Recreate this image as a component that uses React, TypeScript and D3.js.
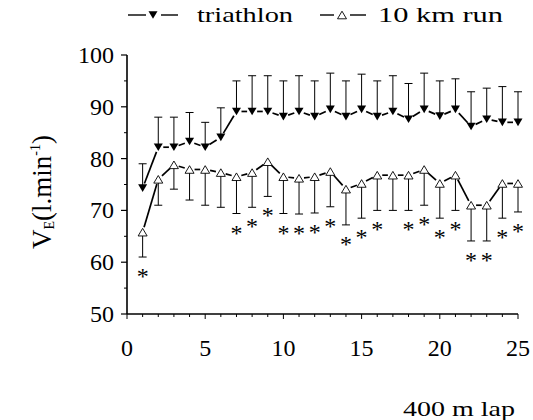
import React from "react";
import * as d3 from "d3";

const laps = [1, 2, 3, 4, 5, 6, 7, 8, 9, 10, 11, 12, 13, 14, 15, 16, 17, 18, 19, 20, 21, 22, 23, 24, 25];
const triMean = [74.3, 82.2, 82.2, 83.3, 82.2, 84.1, 89.1, 89.1, 89.1, 88.1, 89.1, 88.1, 89.5, 88.1, 89.5, 88.1, 89.1, 87.6, 89.5, 88.2, 89.5, 86.2, 87.6, 87.0, 87.0];
const triUpper = [79, 88, 88, 88.9, 87, 89.8, 95, 96, 96, 95, 96, 95, 96.5, 95, 96.3, 95, 96, 94.5, 96.5, 95, 95.4, 92.9, 93.6, 93.9, 92.9];
const runMean = [65.8, 76.0, 78.8, 77.9, 77.9, 77.3, 76.5, 77.3, 79.4, 76.5, 76.2, 76.5, 77.5, 74.1, 75.2, 76.8, 76.8, 76.8, 77.9, 75.2, 76.8, 71.0, 71.0, 75.2, 75.2];
const runLower = [61, 71, 74.1, 72, 71, 70.6, 69.4, 70.6, 72.7, 69.4, 69.3, 69.5, 70.7, 67.2, 68.5, 70, 70, 70, 71, 68.5, 70, 64.1, 64.1, 68.5, 69.7];
const signifLaps = [1, 7, 8, 9, 10, 11, 12, 13, 14, 15, 16, 18, 19, 20, 21, 22, 23, 24, 25];
const xTicks = [0, 5, 10, 15, 20, 25];
const yTicks = [50, 60, 70, 80, 90, 100];
const seriesNames = ["triathlon", "10 km run"];

const FONT = "Liberation Serif";

export default function App() {
  const x = d3.scaleLinear().domain([0, 25]).range([127, 518]);
  const y = d3.scaleLinear().domain([50, 100]).range([314, 55]);
  const cap = 4;
  const gap = 5;

  const segs = (vals: number[]) => {
    const out: JSX.Element[] = [];
    for (let i = 0; i < vals.length - 1; i++) {
      const x1 = x(laps[i]), y1 = y(vals[i]);
      const x2 = x(laps[i + 1]), y2 = y(vals[i + 1]);
      const len = Math.hypot(x2 - x1, y2 - y1);
      const ux = (x2 - x1) / len, uy = (y2 - y1) / len;
      out.push(
        <line key={i} x1={x1 + ux * gap} y1={y1 + uy * gap} x2={x2 - ux * gap} y2={y2 - uy * gap} stroke="#000" strokeWidth={1.7} />
      );
    }
    return out;
  };

  const down = (cx: number, cy: number) => `M${cx - 4.5},${cy - 3.8}L${cx + 4.5},${cy - 3.8}L${cx},${cy + 3.8}Z`;
  const up = (cx: number, cy: number) => `M${cx - 4.5},${cy + 3.8}L${cx + 4.5},${cy + 3.8}L${cx},${cy - 3.8}Z`;

  const xMinor = d3.range(0, 26);
  const yMinor = d3.range(55, 100, 10);

  return (
    <svg width={533} height={420} style={{ position: "absolute", left: 0, top: 0, background: "#fff" }}>
      <rect width={533} height={420} fill="#fff" />
      {/* legend */}
      <g>
        <line x1={128} x2={146} y1={15} y2={15} stroke="#000" strokeWidth={1.4} />
        <line x1={161} x2={178} y1={15} y2={15} stroke="#000" strokeWidth={1.4} />
        <path d={down(153, 15)} fill="#000" />
        <text x={197} y={22} fontFamily={FONT} fontSize={21} textLength={96} lengthAdjust="spacingAndGlyphs">{seriesNames[0]}</text>
        <line x1={320} x2={334} y1={15} y2={15} stroke="#000" strokeWidth={1.4} />
        <line x1={350} x2={366} y1={15} y2={15} stroke="#000" strokeWidth={1.4} />
        <path d={up(342, 15)} fill="#fff" stroke="#000" strokeWidth={0.9} />
        <text x={378} y={22} fontFamily={FONT} fontSize={21} textLength={125} lengthAdjust="spacingAndGlyphs">{seriesNames[1]}</text>
      </g>
      {/* axes */}
      <line x1={x(0)} x2={x(0)} y1={y(100)} y2={y(50)} stroke="#000" strokeWidth={1.6} />
      <line x1={x(0)} x2={x(25)} y1={y(50)} y2={y(50)} stroke="#000" strokeWidth={1.6} />
      {yTicks.map((t) => (
        <g key={"yt" + t}>
          <line x1={x(0) - 6} x2={x(0)} y1={y(t)} y2={y(t)} stroke="#000" strokeWidth={1.2} />
          <text x={114} y={y(t) + 8} fontFamily={FONT} fontSize={24} textAnchor="end">{t}</text>
        </g>
      ))}
      {yMinor.map((t) => (
        <line key={"ym" + t} x1={x(0) - 3} x2={x(0)} y1={y(t)} y2={y(t)} stroke="#000" strokeWidth={1} />
      ))}
      {xMinor.map((t) => (
        <line key={"xm" + t} x1={x(t)} x2={x(t)} y1={y(50)} y2={y(50) + (t % 5 === 0 ? 5 : 3)} stroke="#000" strokeWidth={1} />
      ))}
      {xTicks.map((t) => (
        <text key={"xt" + t} x={x(t)} y={356} fontFamily={FONT} fontSize={24} textAnchor="middle">{t}</text>
      ))}
      <text x={515} y={416} fontFamily={FONT} fontSize={22} textAnchor="end" textLength={112} lengthAdjust="spacingAndGlyphs">400 m lap</text>
      <text transform="translate(51,192) rotate(-90)" fontFamily={FONT} fontSize={27} textAnchor="middle">
        V<tspan fontSize={14} dy={3}>E</tspan><tspan dy={-3}>(l.min</tspan><tspan fontSize={14} dy={-11}>-1</tspan><tspan dy={11}>)</tspan>
      </text>
      {/* error bars */}
      {laps.map((l, i) => (
        <g key={"te" + l} stroke="#000" strokeWidth={1}>
          <line x1={x(l)} x2={x(l)} y1={y(triMean[i])} y2={y(triUpper[i])} />
          <line x1={x(l) - cap} x2={x(l) + cap} y1={y(triUpper[i])} y2={y(triUpper[i])} />
        </g>
      ))}
      {laps.map((l, i) => (
        <g key={"re" + l} stroke="#000" strokeWidth={1}>
          <line x1={x(l)} x2={x(l)} y1={y(runMean[i])} y2={y(runLower[i])} />
          <line x1={x(l) - cap} x2={x(l) + cap} y1={y(runLower[i])} y2={y(runLower[i])} />
        </g>
      ))}
      {/* lines */}
      <g>{segs(triMean)}</g>
      <g>{segs(runMean)}</g>
      {/* markers */}
      {laps.map((l, i) => (
        <path key={"tm" + l} d={down(x(l), y(triMean[i]))} fill="#000" />
      ))}
      {laps.map((l, i) => (
        <path key={"rm" + l} d={up(x(l), y(runMean[i]))} fill="#fff" stroke="#000" strokeWidth={0.9} />
      ))}
      {/* significance */}
      <g opacity={0.99}>
        {signifLaps.map((l) => {
          const i = laps.indexOf(l);
          return (
            <text key={"s" + l} x={x(l)} y={y(runLower[i]) + 27} fontFamily={FONT} fontSize={24} fill="#000" textAnchor="middle">*</text>
          );
        })}
      </g>
    </svg>
  );
}
